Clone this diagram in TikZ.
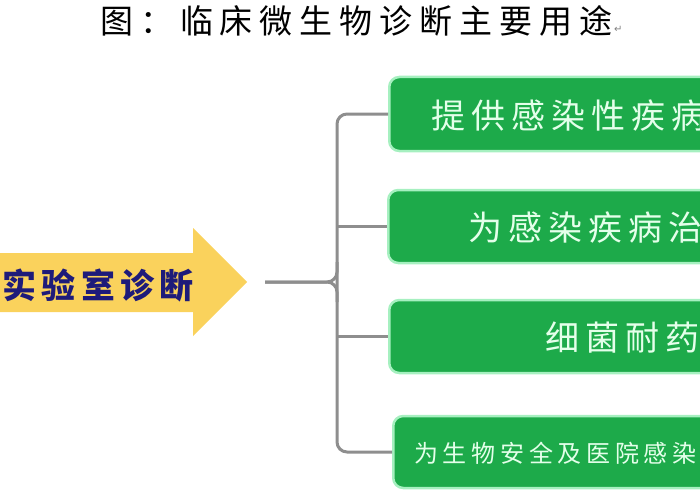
\documentclass[tikz,border=0pt]{standalone}
\usepackage{fontspec}
\usepackage{tikz}
\newfontfamily\cjk{Noto Sans CJK SC}
\newfontfamily\symb{DejaVu Sans}
\definecolor{boxgreen}{HTML}{1DAA4A}
\definecolor{glowgreen}{HTML}{A6F0C0}
\definecolor{boxtext}{HTML}{E4FFEA}
\definecolor{arrowyellow}{HTML}{FAD25C}
\definecolor{labblue}{HTML}{1E1B7A}
\definecolor{bracegray}{HTML}{8E8E8E}
\tikzset{
  gbox/.style={draw=glowgreen, line width=2.5pt, fill=boxgreen, rounded corners=10pt,
    minimum width=380pt, anchor=west, inner sep=0pt},
  gtext/.style={anchor=west, inner sep=0pt, text=boxtext,
    font=\cjk\fontsize{34pt}{34pt}\selectfont\addfontfeature{LetterSpace=17.6}},
  bracket/.style={draw=bracegray, line width=3pt, rounded corners=10pt}
}
\begin{document}
\begin{tikzpicture}[x=1pt, y=-1pt]
				\useasboundingbox (0,0) rectangle (700,500);
				
				% Title
				\node (title) [anchor=west, inner sep=0pt, font=\cjk\fontsize{33pt}{33pt}\selectfont\addfontfeature{LetterSpace=21}] at (100,21) {图：临床微生物诊断主要用途};
				\node (mark) [anchor=west, inner sep=0pt, text=gray, font=\symb\fontsize{10pt}{10pt}\selectfont] at (614,29) {↵};
				
				% Arrow
				\fill[arrowyellow] (-5,253) -- (193,253) -- (193,228) -- (247,282) -- (193,336) -- (193,312) -- (-5,312) -- cycle;
				\node (lab) [anchor=west, inner sep=0pt, text=labblue, font=\cjk\bfseries\fontsize{34pt}{34pt}\selectfont\addfontfeature{LetterSpace=16}] at (2,285) {实验室诊断};
				
				% Boxes
				\node (b1) [gbox, minimum height=74pt] at (388,114) {};
				\node (b2) [gbox, minimum height=73pt] at (387,226.5) {};
				\node (b3) [gbox, minimum height=73pt] at (388,336.5) {};
				\node (b4) [gbox, minimum height=72pt] at (392,452) {};
				
				\node (t1) [gtext] at (431,116) {提供感染性疾病};
				\node (t2) [gtext] at (468,228) {为感染疾病治};
				\node (t3) [gtext] at (545,338) {细菌耐药};
				\node (t4) [gtext, font=\cjk\fontsize{24pt}{24pt}\selectfont\addfontfeature{LetterSpace=19.6}] at (414,453) {为生物安全及医院感染};
				
				% Brace
				\coordinate (tail) at (265,282);
				\coordinate (spine) at (337,282);
				\draw[bracket] (b1.west) -| (spine) |- (b4.west);
				\draw[bracket] (tail) -| ([yshift=20pt]spine);
				\draw[bracket] (tail) -| ([yshift=-20pt]spine);
				\draw[bracket] (b2.west -| spine) -- (b2.west);
				\draw[bracket] (b3.west -| spine) -- (b3.west);
				
			\end{tikzpicture}
\end{document}
